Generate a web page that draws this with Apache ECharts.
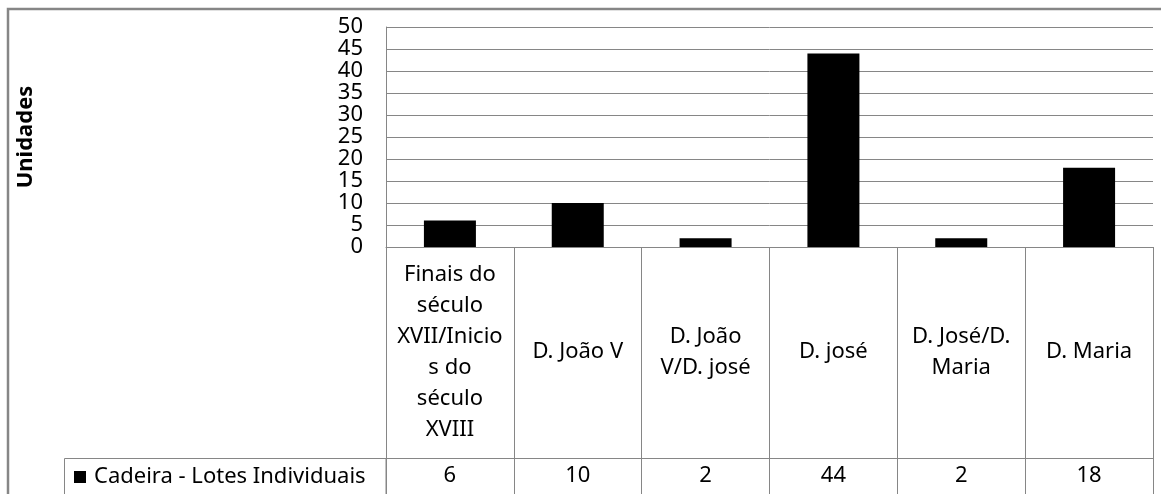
<!DOCTYPE html>
<html>
<head>
<meta charset="utf-8">
<script src="https://cdn.jsdelivr.net/npm/echarts@6/dist/echarts.min.js"></script>
<style>
  html, body { margin: 0; padding: 0; background: #fff; }
  #chart { width: 1161px; height: 494px; }
</style>
</head>
<body>
<div id="chart"></div>
<script>
// categorias (quebras de linha como no original)
var categories = [
  "Finais do\nséculo\nXVII/Inicio\ns do\nséculo\nXVIII",
  "D. João V",
  "D. João\nV/D. josé",
  "D. josé",
  "D. José/D.\nMaria",
  "D. Maria"
];
var values = [6, 10, 2, 44, 2, 18];
var seriesName = "Cadeira - Lotes Individuais";
var yTicks = { min: 0, max: 50, interval: 5 };
var yTitle = "Unidades";

var FONT = "Noto Sans";
var GRID_COLOR = "#868686";

var myChart = echarts.init(document.getElementById("chart"));

var option = {
  animation: false,
  textStyle: { fontFamily: FONT },
  grid: { left: 386, top: 27, width: 767, height: 220 },
  legend: {
    data: [seriesName],
    left: 74,
    top: 466,
    padding: 0,
    icon: "rect",
    itemWidth: 12,
    itemHeight: 12,
    textStyle: { fontSize: 22, color: "#000", fontFamily: FONT, padding: [0, 0, 0, 3] }
  },
  xAxis: [
    {
      // linha das categorias da tabela
      type: "category",
      data: categories,
      position: "bottom",
      axisLine: { show: true, lineStyle: { color: GRID_COLOR } },
      axisTick: { show: true, interval: 0, length: 247, lineStyle: { color: GRID_COLOR } },
      axisLabel: {
        interval: 0,
        margin: 105,
        verticalAlign: "middle",
        align: "center",
        lineHeight: 31,
        fontSize: 22,
        color: "#000",
        fontFamily: FONT
      },
      splitLine: { show: false }
    },
    {
      // linha dos valores da tabela
      type: "category",
      data: categories,
      position: "bottom",
      offset: 211,
      axisLine: { show: true, lineStyle: { color: GRID_COLOR } },
      axisTick: { show: false },
      axisLabel: {
        interval: 0,
        margin: 18,
        verticalAlign: "middle",
        fontSize: 22,
        color: "#000",
        fontFamily: FONT,
        formatter: function (v, i) { return String(values[i]); }
      },
      splitLine: { show: false }
    }
  ],
  yAxis: {
    type: "value",
    min: yTicks.min,
    max: yTicks.max,
    interval: yTicks.interval,
    name: yTitle,
    nameLocation: "middle",
    nameRotate: 90,
    nameGap: 349,
    nameTextStyle: { fontSize: 22, fontWeight: "bold", color: "#000", fontFamily: FONT },
    axisLine: { show: true, lineStyle: { color: GRID_COLOR } },
    axisTick: { show: false },
    axisLabel: { margin: 23, fontSize: 22, color: "#000", fontFamily: FONT },
    splitLine: { show: true, lineStyle: { color: GRID_COLOR, width: 1 } }
  },
  series: [
    {
      name: seriesName,
      type: "bar",
      xAxisIndex: 0,
      yAxisIndex: 0,
      data: values,
      barWidth: 52,
      itemStyle: { color: "#000" }
    }
  ],
  graphic: [
    {
      // moldura do gráfico
      type: "rect",
      silent: true,
      shape: { x: 8, y: 9, width: 1200, height: 600 },
      style: { fill: "none", stroke: GRID_COLOR, lineWidth: 2.5 }
    },
    {
      // célula da legenda na tabela
      type: "rect",
      silent: true,
      shape: { x: 64.5, y: 458.5, width: 321.5, height: 60 },
      style: { fill: "none", stroke: GRID_COLOR, lineWidth: 1 }
    }
  ]
};

myChart.setOption(option);
</script>
</body>
</html>
